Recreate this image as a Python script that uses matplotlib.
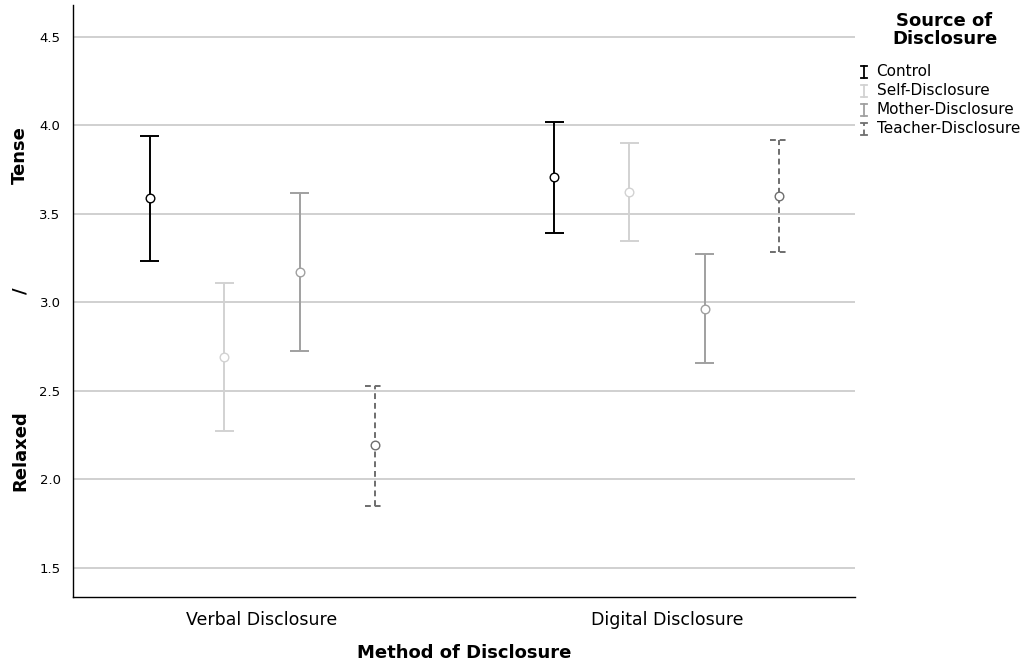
import numpy as np
import matplotlib.pyplot as plt

# Datos: medias e intervalos
metodos = ['Verbal Disclosure', 'Digital Disclosure']
fuentes = ['Control', 'Self-Disclosure', 'Mother-Disclosure', 'Teacher-Disclosure']

medias = {
    'Control': [3.589, 3.709],
    'Self-Disclosure': [2.691, 3.624],
    'Mother-Disclosure': [3.171, 2.964],
    'Teacher-Disclosure': [2.193, 3.603],
}
superior = {
    'Control': [3.940, 4.017],
    'Self-Disclosure': [3.107, 3.900],
    'Mother-Disclosure': [3.620, 3.275],
    'Teacher-Disclosure': [2.530, 3.915],
}
inferior = {
    'Control': [3.236, 3.393],
    'Self-Disclosure': [2.276, 3.347],
    'Mother-Disclosure': [2.725, 2.656],
    'Teacher-Disclosure': [1.851, 3.287],
}

colores = ['#000000', '#d2d2d2', '#a0a0a0', '#6e6e6e']
estilos = ['-', '-', '-', (0, (3, 2))]
desplaz = [-0.278, -0.093, 0.093, 0.278]
cap = 0.024

fig = plt.figure(figsize=(10.3, 6.69), dpi=100)
ax = fig.add_axes([0.0709, 0.1076, 0.759, 0.885])

x = np.arange(len(metodos))
for f, c, ls, d in zip(fuentes, colores, estilos, desplaz):
    xs = x + d
    ax.vlines(xs, inferior[f], superior[f], colors=c, linestyles=ls, lw=1.4, zorder=3)
    ax.hlines(superior[f], xs - cap, xs + cap, colors=c, linestyles=ls, lw=1.4, zorder=3)
    ax.hlines(inferior[f], xs - cap, xs + cap, colors=c, linestyles=ls, lw=1.4, zorder=3)
    ax.plot(xs, medias[f], 'o', ms=6.2, mfc='white', mec=c, mew=1.0, ls='none', zorder=4)

ax.set_xlim(-0.467, 1.464)
ax.set_ylim(1.336, 4.68)
ax.set_yticks([1.5, 2.0, 2.5, 3.0, 3.5, 4.0, 4.5])
ax.set_yticklabels(['1.5', '2.0', '2.5', '3.0', '3.5', '4.0', '4.5'], fontsize=9.5)
ax.set_xticks(x)
ax.set_xticklabels(metodos, fontsize=12.5)
ax.tick_params(length=0, pad=9)
ax.tick_params(axis='x', pad=10)
ax.grid(axis='y', color='#c8c8c8', lw=1.2, zorder=0)
ax.spines['top'].set_visible(False)
ax.spines['right'].set_visible(False)
ax.spines['left'].set_linewidth(1.0)
ax.spines['bottom'].set_linewidth(1.0)

ax.set_xlabel('Method of Disclosure', fontsize=13, fontweight='bold', labelpad=11)
fig.text(0.0195, 0.768, 'Tense', rotation=90, fontsize=13, fontweight='bold', ha='center', va='center')
fig.text(0.0195, 0.566, '/', rotation=90, fontsize=13, fontweight='bold', ha='center', va='center')
fig.text(0.0195, 0.327, 'Relaxed', rotation=90, fontsize=13, fontweight='bold', ha='center', va='center')

# Leyenda
fig.text(0.917, 0.955, 'Source of\nDisclosure', fontsize=13, fontweight='bold',
         ha='center', va='center', linespacing=1.0)
for i, (f, c, ls) in enumerate(zip(fuentes, colores, estilos)):
    yy = 0.893 - i * 0.0285
    xl = 0.8385
    fig.add_artist(plt.Line2D([xl, xl], [yy - 0.009, yy + 0.009], color=c, ls=ls, lw=1.3))
    fig.add_artist(plt.Line2D([xl - 0.003, xl + 0.003], [yy + 0.009, yy + 0.009], color=c, lw=1.3))
    fig.add_artist(plt.Line2D([xl - 0.003, xl + 0.003], [yy - 0.009, yy - 0.009], color=c, lw=1.3))
    fig.text(0.851, yy, f, fontsize=11, ha='left', va='center')

plt.savefig('out.png')
